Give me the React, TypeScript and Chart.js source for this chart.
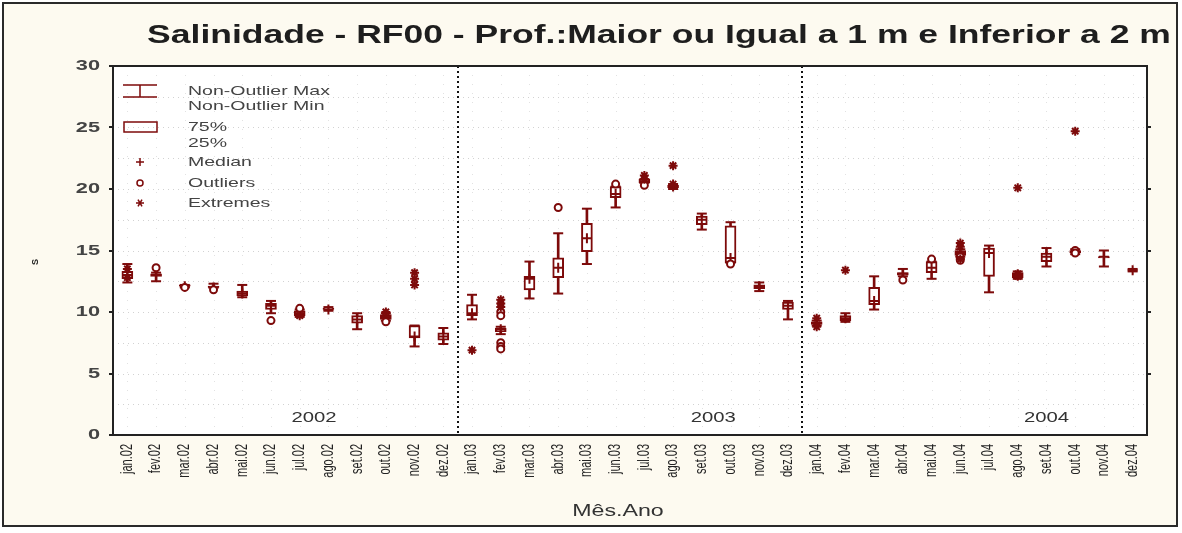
import React, { useEffect, useRef } from 'react';
import { Chart, registerables } from 'chart.js';
Chart.register(...registerables);

const months = ['jan', 'fev', 'mar', 'abr', 'mai', 'jun', 'jul', 'ago', 'set', 'out', 'nov', 'dez'];
const yearSuffixes = ['02', '03', '04'];
const categories = yearSuffixes.flatMap((y) => months.map((m) => `${m}.${y}`));
const yearLabels = ['2002', '2003', '2004'];
const yearLabelIndex = [6.5, 20.4, 32];
const yearLabelValue = 1.4;
const yTicks = [0, 5, 10, 15, 20, 25, 30];

const minVals = [12.4, 12.5, 12.0, 12.0, 11.2, 9.9, 9.6, 10.1, 8.6, 9.3, 7.2, 7.4,
  9.4, 8.2, 11.1, 11.5, 13.9, 18.5, 20.5, 20.0, 16.7, 14.0, 11.7, 9.4,
  8.9, 9.2, 10.2, 12.9, 12.7, 14.5, 11.6, 12.7, 13.7, 14.7, 13.7, 13.3];
const q1Vals = [12.7, 12.9, 12.1, 12.0, 11.3, 10.2, 9.7, 10.2, 9.1, 9.4, 7.9, 7.7,
  9.7, 8.4, 11.8, 12.8, 14.9, 19.3, 20.5, 20.1, 17.1, 14.0, 11.9, 10.2,
  9.0, 9.3, 10.6, 13.0, 13.2, 14.6, 12.9, 12.8, 14.1, 14.8, 14.4, 13.4];
const medVals = [13.0, 13.0, 12.1, 12.0, 11.5, 10.5, 9.9, 10.2, 9.4, 9.6, 8.0, 8.0,
  9.9, 8.6, 12.7, 13.6, 16.0, 19.6, 20.6, 20.2, 17.5, 14.4, 12.1, 10.5,
  9.1, 9.5, 10.9, 13.1, 13.6, 14.8, 14.8, 13.0, 14.5, 14.9, 14.5, 13.4];
const q3Vals = [13.3, 13.1, 12.2, 12.1, 11.7, 10.7, 10.1, 10.3, 9.7, 9.8, 8.9, 8.3,
  10.6, 8.7, 12.9, 14.4, 17.2, 20.2, 20.8, 20.3, 17.8, 17.0, 12.2, 10.8,
  9.2, 9.7, 12.0, 13.2, 14.1, 15.0, 15.2, 13.2, 14.8, 15.0, 14.5, 13.4];
const maxVals = [13.9, 13.2, 12.2, 12.3, 12.2, 10.9, 10.2, 10.4, 9.9, 9.9, 8.9, 8.7,
  11.4, 8.8, 14.1, 16.4, 18.4, 20.2, 20.8, 20.4, 18.0, 17.3, 12.4, 10.9,
  9.3, 9.9, 12.9, 13.5, 14.1, 15.1, 15.4, 13.3, 15.2, 15.1, 15.0, 13.5];
const outlierVals: number[][] = [
  [], [13.6], [12.0], [11.8], [], [9.3], [10.3], [], [], [9.2], [], [],
  [], [10.0, 9.7, 7.5, 7.2, 7.0], [], [18.5], [], [20.4], [20.3], [], [], [13.9], [], [],
  [], [], [], [12.6], [14.3], [14.5, 14.2], [], [], [], [15.0, 14.8], [], [],
];
const extremeVals: number[][] = [
  [13.5, 12.8], [], [], [], [], [], [9.7], [], [], [10.0], [13.2, 12.7, 12.2], [],
  [6.9], [11.0, 10.7, 10.4], [], [], [], [], [21.1, 20.8], [21.9, 20.4], [], [], [], [],
  [9.5, 8.8], [13.4], [], [], [], [15.6, 15.3, 14.3], [], [20.1, 13.1, 12.9], [], [24.7], [], [],
];

const RED = '#7d0a0a';
const FONT = '"Liberation Sans", Arial, sans-serif';
const STRETCH = 1.45;

const toPoints = (vals: number[]) => vals.map((v, i) => ({ x: categories[i], y: v }));
const flatPoints = (lists: number[][]) =>
  lists.flatMap((list, i) => list.map((v) => ({ x: categories[i], y: v })));

function drawText(
  ctx: CanvasRenderingContext2D, text: string, x: number, y: number, font: string,
  color: string, align: CanvasTextAlign, baseline: CanvasTextBaseline, sx: number, rot = 0,
) {
  ctx.save();
  ctx.translate(x, y);
  ctx.scale(sx, 1);
  if (rot) ctx.rotate(rot);
  ctx.font = font;
  ctx.fillStyle = color;
  ctx.textAlign = align;
  ctx.textBaseline = baseline;
  ctx.fillText(text, 0, 0);
  ctx.restore();
}

const decorPlugin = {
  id: 'decor',
  beforeDraw(chart: any) {
    const { ctx, chartArea: a } = chart;
    ctx.save();
    ctx.fillStyle = '#ffffff';
    ctx.fillRect(a.left, a.top, a.right - a.left, a.bottom - a.top);
    ctx.restore();
  },
  beforeDatasetsDraw(chart: any) {
    const { ctx, chartArea: a, scales } = chart;
    const xs = scales.x;
    const ys = scales.y;
    ctx.save();
    ctx.lineWidth = 1;
    ctx.strokeStyle = '#d2d2d2';
    ctx.setLineDash([1, 4]);
    for (let v = 2.5; v < 30; v += 2.5) {
      const y = Math.round(ys.getPixelForValue(v)) + 0.5;
      ctx.beginPath();
      ctx.moveTo(a.left, y);
      ctx.lineTo(a.right, y);
      ctx.stroke();
    }
    ctx.strokeStyle = '#e2e2e2';
    ctx.setLineDash([1, 8]);
    for (let i = 0; i < categories.length; i++) {
      const x = Math.round(xs.getPixelForValue(i)) + 0.5;
      ctx.beginPath();
      ctx.moveTo(x, a.top);
      ctx.lineTo(x, a.bottom);
      ctx.stroke();
    }
    ctx.strokeStyle = '#111';
    ctx.lineWidth = 2;
    ctx.setLineDash([2, 3]);
    [11.5, 23.5].forEach((p) => {
      const x = Math.round(xs.getPixelForValue(p));
      ctx.beginPath();
      ctx.moveTo(x, a.top);
      ctx.lineTo(x, a.bottom);
      ctx.stroke();
    });
    ctx.setLineDash([]);
    ctx.restore();
    yearLabels.forEach((t, i) => {
      drawText(ctx, t, xs.getPixelForValue(yearLabelIndex[i]), ys.getPixelForValue(yearLabelValue),
        `14px ${FONT}`, '#333', 'center', 'middle', STRETCH);
    });
  },
  afterDraw(chart: any) {
    const { ctx, chartArea: a, scales } = chart;
    const xs = scales.x;
    const ys = scales.y;
    ctx.save();
    ctx.strokeStyle = '#222';
    ctx.lineWidth = 2;
    ctx.strokeRect(a.left, a.top, a.right - a.left, a.bottom - a.top);
    for (let v = 5; v < 30; v += 5) {
      const y = Math.round(ys.getPixelForValue(v));
      ctx.beginPath();
      ctx.moveTo(a.right, y);
      ctx.lineTo(a.right + 4, y);
      ctx.stroke();
    }
    ctx.restore();

    // title
    drawText(ctx, 'Salinidade - RF00 - Prof.:Maior ou Igual a 1 m e Inferior a 2 m', 655, 39,
      `bold 25px ${FONT}`, '#1e1e1e', 'center', 'alphabetic', 1.42);
    // axis titles
    drawText(ctx, 'Mês.Ano', 614, 508, `16px ${FONT}`, '#333', 'center', 'middle', STRETCH);
    drawText(ctx, 'S', 32, 258, `bold 9px ${FONT}`, '#222', 'center', 'middle', 1, -Math.PI / 2);
    // y tick labels
    yTicks.forEach((v) => {
      drawText(ctx, String(v), a.left - 13, ys.getPixelForValue(v), `bold 15px ${FONT}`, '#444',
        'right', 'middle', STRETCH);
    });
    // x tick labels
    categories.forEach((c, i) => {
      drawText(ctx, c, xs.getPixelForValue(i), a.bottom + 9, `11px ${FONT}`, '#222',
        'right', 'middle', STRETCH, -Math.PI / 2);
    });

    // legend
    const sx = a.left + 27;
    const tx = a.left + 75;
    const row = (dy: number) => a.top + dy;
    ctx.save();
    ctx.strokeStyle = RED;
    ctx.lineWidth = 1.5;
    ctx.beginPath();
    ctx.moveTo(sx - 17, row(19)); ctx.lineTo(sx + 17, row(19));
    ctx.moveTo(sx - 17, row(31)); ctx.lineTo(sx + 17, row(31));
    ctx.moveTo(sx, row(19)); ctx.lineTo(sx, row(31));
    ctx.stroke();
    ctx.strokeRect(sx - 16, row(56), 33, 10);
    ctx.beginPath();
    ctx.moveTo(sx - 4, row(96)); ctx.lineTo(sx + 4, row(96));
    ctx.moveTo(sx, row(92)); ctx.lineTo(sx, row(100));
    ctx.stroke();
    ctx.beginPath();
    ctx.arc(sx, row(117), 3, 0, Math.PI * 2);
    ctx.stroke();
    ctx.beginPath();
    for (let k = 0; k < 3; k++) {
      const ang = (k * Math.PI) / 3;
      ctx.moveTo(sx - 4 * Math.cos(ang), row(137) - 4 * Math.sin(ang));
      ctx.lineTo(sx + 4 * Math.cos(ang), row(137) + 4 * Math.sin(ang));
    }
    ctx.stroke();
    ctx.restore();
    const texts: [string, number][] = [
      ['Non-Outlier Max', 25], ['Non-Outlier Min', 40], ['75%', 61], ['25%', 77],
      ['Median', 96], ['Outliers', 117], ['Extremes', 137],
    ];
    texts.forEach(([t, dy]) => drawText(ctx, t, tx, row(dy), `13px ${FONT}`, '#444', 'left', 'middle', 1.5));
  },
};

export default function App() {
  const ref = useRef<HTMLCanvasElement>(null);
  useEffect(() => {
    const chart = new Chart(ref.current as HTMLCanvasElement, {
      type: 'bar',
      data: {
        labels: categories,
        datasets: [
          {
            type: 'bar',
            label: 'whisker',
            data: categories.map((_, i) => [minVals[i], maxVals[i]]) as any,
            backgroundColor: RED,
            borderWidth: 0,
            barThickness: 2,
            grouped: false,
            order: 6,
          } as any,
          {
            type: 'bar',
            label: 'box',
            data: categories.map((_, i) => [q1Vals[i], q3Vals[i]]) as any,
            backgroundColor: '#ffffff',
            borderColor: RED,
            borderWidth: 2,
            borderSkipped: false,
            barThickness: 11,
            grouped: false,
            order: 5,
          } as any,
          {
            type: 'line',
            label: 'caps',
            data: [...toPoints(minVals), ...toPoints(maxVals)] as any,
            showLine: false,
            pointStyle: 'line',
            pointRadius: 5,
            pointBorderWidth: 2,
            pointBorderColor: RED,
            order: 4,
          } as any,
          {
            type: 'line',
            label: 'median',
            data: toPoints(medVals) as any,
            showLine: false,
            pointStyle: 'cross',
            pointRadius: 5,
            pointBorderWidth: 2,
            pointBorderColor: RED,
            order: 3,
          } as any,
          {
            type: 'line',
            label: 'outliers',
            data: flatPoints(outlierVals) as any,
            showLine: false,
            pointStyle: 'circle',
            pointRadius: 3.5,
            pointBorderWidth: 2,
            pointBorderColor: RED,
            pointBackgroundColor: '#ffffff',
            order: 2,
          } as any,
          {
            type: 'line',
            label: 'extremes',
            data: flatPoints(extremeVals) as any,
            showLine: false,
            pointStyle: 'star',
            pointRadius: 4.5,
            pointBorderWidth: 2,
            pointBorderColor: RED,
            order: 1,
          } as any,
        ],
      },
      options: {
        responsive: false,
        animation: false,
        devicePixelRatio: 1,
        layout: { padding: { top: 62, right: 29, left: 0, bottom: 0 } },
        plugins: {
          legend: { display: false },
          title: { display: false },
          tooltip: { enabled: false },
        },
        events: [],
        scales: {
          x: {
            type: 'category',
            offset: true,
            grid: { display: false, drawTicks: false },
            border: { display: false },
            ticks: { display: false, autoSkip: false },
            afterFit: (s: any) => { s.height = 90; },
          },
          y: {
            min: 0,
            max: 30,
            ticks: { stepSize: 5, display: false },
            grid: { drawOnChartArea: false, drawTicks: true, tickLength: 4, color: '#222', lineWidth: 2 },
            border: { display: false },
            afterFit: (s: any) => { s.width = 109; },
          },
        },
      } as any,
      plugins: [decorPlugin],
    });
    return () => chart.destroy();
  }, []);
  return (
    <div style={{ position: 'absolute', left: 0, top: 0, width: 1182, height: 533, background: '#ffffff' }}>
      <div
        style={{
          position: 'absolute', left: 2, top: 2, width: 1172, height: 521,
          border: '2px solid #2a2a2a', background: '#fdfaf0',
        }}
      >
        <canvas ref={ref} width={1172} height={521} style={{ display: 'block', width: 1172, height: 521 }} />
      </div>
    </div>
  );
}
